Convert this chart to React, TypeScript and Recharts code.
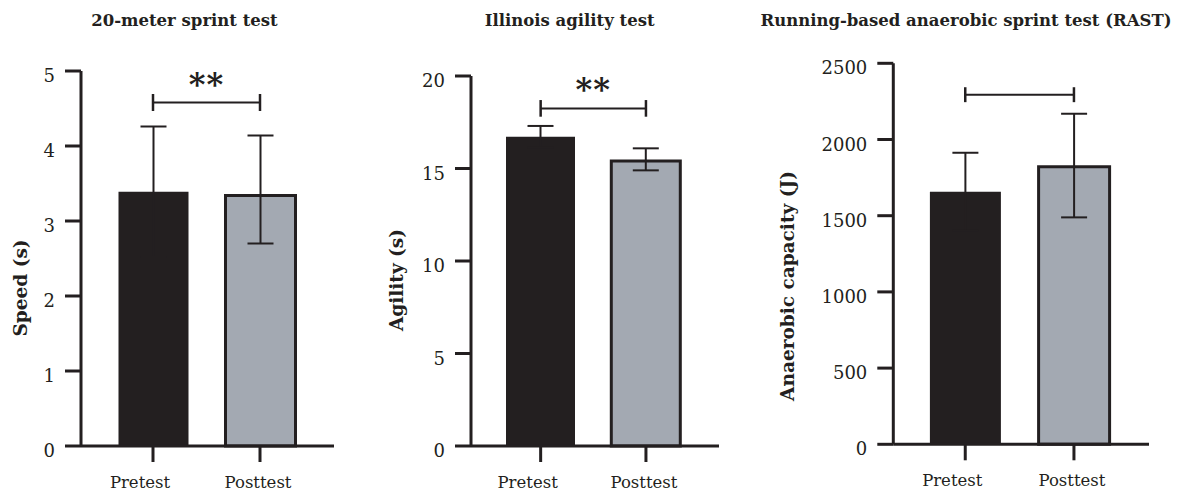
import React from 'react';
import { BarChart, Bar, XAxis, YAxis, ErrorBar, Cell, ReferenceLine } from 'recharts';

// ---------- data ----------
const categories = ['Pretest', 'Posttest'];
const titles = ['20-meter sprint test', 'Illinois agility test', 'Running-based anaerobic sprint test (RAST)'];
const yLabels = ['Speed (s)', 'Agility (s)', 'Anaerobic capacity (J)'];

const sprintMeans = [3.39, 3.34];
const sprintErrors: number[][] = [[0.87, 0.87], [0.64, 0.8]];
const agilityMeans = [16.72, 15.41];
const agilityErrors: number[][] = [[0.58, 0.58], [0.51, 0.68]];
const rastMeans = [1657, 1821];
const rastErrors: number[][] = [[256, 256], [332, 348]];

const sprintTicks = [0, 1, 2, 3, 4, 5];
const agilityTicks = [0, 5, 10, 15, 20];
const rastTicks = [0, 500, 1000, 1500, 2000, 2500];

const sigLabels = ['**', '**', ''];
const bracketLevels = [4.58, 18.25, 2294];
const bracketHalf = [0.113, 0.45, 49];

// ---------- style ----------
const INK = '#231f20';
const GREY = '#a3a9b2';
const FONT = '"DejaVu Serif", serif';
const barFills = [INK, GREY];
const barStrokes = [0, 3];

type Layout = {
  left: number; width: number; yAxisWidth: number; top: number; xAxisHeight: number;
  right: number; padL: number; padR: number; barSize: number; labelX: number; labelY: number;
  titleX: number;
};

const layouts: Layout[] = [
  { left: 0, width: 390, yAxisWidth: 81, top: 71, xAxisHeight: 46, right: 56, padL: 18.5, padR: 20.5, barSize: 70, labelX: 22, labelY: 288, titleX: 184.5 },
  { left: 375, width: 405, yAxisWidth: 96, top: 76, xAxisHeight: 46, right: 61, padL: 17, padR: 20.4, barSize: 69, labelX: 23, labelY: 280, titleX: 569.7 },
  { left: 765, width: 415, yAxisWidth: 128.3, top: 63.3, xAxisHeight: 47.7, right: 31, padL: 17.6, padR: 20.7, barSize: 71, labelX: 24, labelY: 286, titleX: 966 },
];

const panels = [
  { means: sprintMeans, errors: sprintErrors, ticks: sprintTicks },
  { means: agilityMeans, errors: agilityErrors, ticks: agilityTicks },
  { means: rastMeans, errors: rastErrors, ticks: rastTicks },
];

const xLabelShift = [-13, -2];

const YTick = (props: any) => {
  const { x, y, payload } = props;
  return (
    <text x={x} y={y} dy={6} textAnchor="end" dominantBaseline="middle" fontFamily={FONT} fontSize={18} fill={INK}>
      {payload.value}
    </text>
  );
};

const XTick = (props: any) => {
  const { x, y, payload, index } = props;
  return (
    <text x={x + (xLabelShift[index] ?? 0)} y={y} dy={26} textAnchor="middle" fontFamily={FONT} fontSize={16.5} fill={INK}>
      {payload.value}
    </text>
  );
};

function Panel({ idx }: { idx: number }) {
  const L = layouts[idx];
  const P = panels[idx];
  const data = categories.map((name, i) => ({ name, value: P.means[i], err: P.errors[i] }));
  const maxTick = P.ticks[P.ticks.length - 1];
  const chartHeight = 492;
  const level = bracketLevels[idx];
  const half = bracketHalf[idx];
  const yLabel = yLabels[idx];

  const renderYLabel = (props: any) => {
    const vb = props.viewBox || {};
    const cx = (vb.x ?? 0) + L.labelX;
    const cy = L.labelY;
    return (
      <text
        x={cx}
        y={cy}
        transform={`rotate(-90, ${cx}, ${cy})`}
        textAnchor="middle"
        dominantBaseline="middle"
        fontFamily={FONT}
        fontWeight="bold"
        fontSize={18.5}
        fill={INK}
      >
        {yLabel}
      </text>
    );
  };

  return (
    <div style={{ position: 'absolute', left: L.left, top: 0, width: L.width, height: chartHeight }}>
      <BarChart
        width={L.width}
        height={chartHeight}
        data={data}
        margin={{ top: L.top, right: L.right, bottom: 0, left: 0 }}
        barCategoryGap={0}
        style={{ fontFamily: FONT }}
      >
        <XAxis
          dataKey="name"
          height={L.xAxisHeight}
          padding={{ left: L.padL, right: L.padR }}
          axisLine={{ stroke: INK, strokeWidth: 3 }}
          tickLine={{ stroke: INK, strokeWidth: 3 }}
          tickSize={16}
          tickMargin={0}
          tick={<XTick />}
          interval={0}
        />
        <YAxis
          width={L.yAxisWidth}
          domain={[0, maxTick]}
          ticks={P.ticks}
          interval={0}
          axisLine={{ stroke: INK, strokeWidth: 3 }}
          tickLine={{ stroke: INK, strokeWidth: 3 }}
          tickSize={16}
          tickMargin={10}
          tick={<YTick />}
          label={renderYLabel}
        />
        <Bar dataKey="value" barSize={L.barSize} isAnimationActive={false}>
          {data.map((d, i) => (
            <Cell key={d.name} fill={barFills[i]} stroke={INK} strokeWidth={barStrokes[i]} />
          ))}
          <ErrorBar dataKey="err" width={13} strokeWidth={2} stroke={INK} direction="y" isAnimationActive={false} />
        </Bar>
        <ReferenceLine
          segment={[{ x: categories[0], y: level }, { x: categories[1], y: level }]}
          stroke={INK}
          strokeWidth={2}
          label={sigLabels[idx] ? { value: sigLabels[idx], position: 'top', offset: 8, fontSize: 32, fontWeight: 'bold', fill: INK, fontFamily: FONT, letterSpacing: 1 } : undefined}
        />
        <ReferenceLine
          segment={[{ x: categories[0], y: level - half }, { x: categories[0], y: level + half }]}
          stroke={INK}
          strokeWidth={2.5}
        />
        <ReferenceLine
          segment={[{ x: categories[1], y: level - half }, { x: categories[1], y: level + half }]}
          stroke={INK}
          strokeWidth={2.5}
        />
      </BarChart>
    </div>
  );
}

export default function App() {
  return (
    <div style={{ position: 'absolute', left: 0, top: 0, width: 1180, height: 492, background: '#fff', overflow: 'hidden' }}>
      {titles.map((t, i) => (
        <div
          key={t}
          style={{
            position: 'absolute',
            left: layouts[i].titleX - 250,
            top: 11,
            width: 500,
            textAlign: 'center',
            fontFamily: FONT,
            fontWeight: 'bold',
            fontSize: 16.5,
            lineHeight: '20px',
            color: INK,
            zIndex: 2,
          }}
        >
          {t}
        </div>
      ))}
      {layouts.map((_, i) => (
        <Panel key={i} idx={i} />
      ))}
    </div>
  );
}
